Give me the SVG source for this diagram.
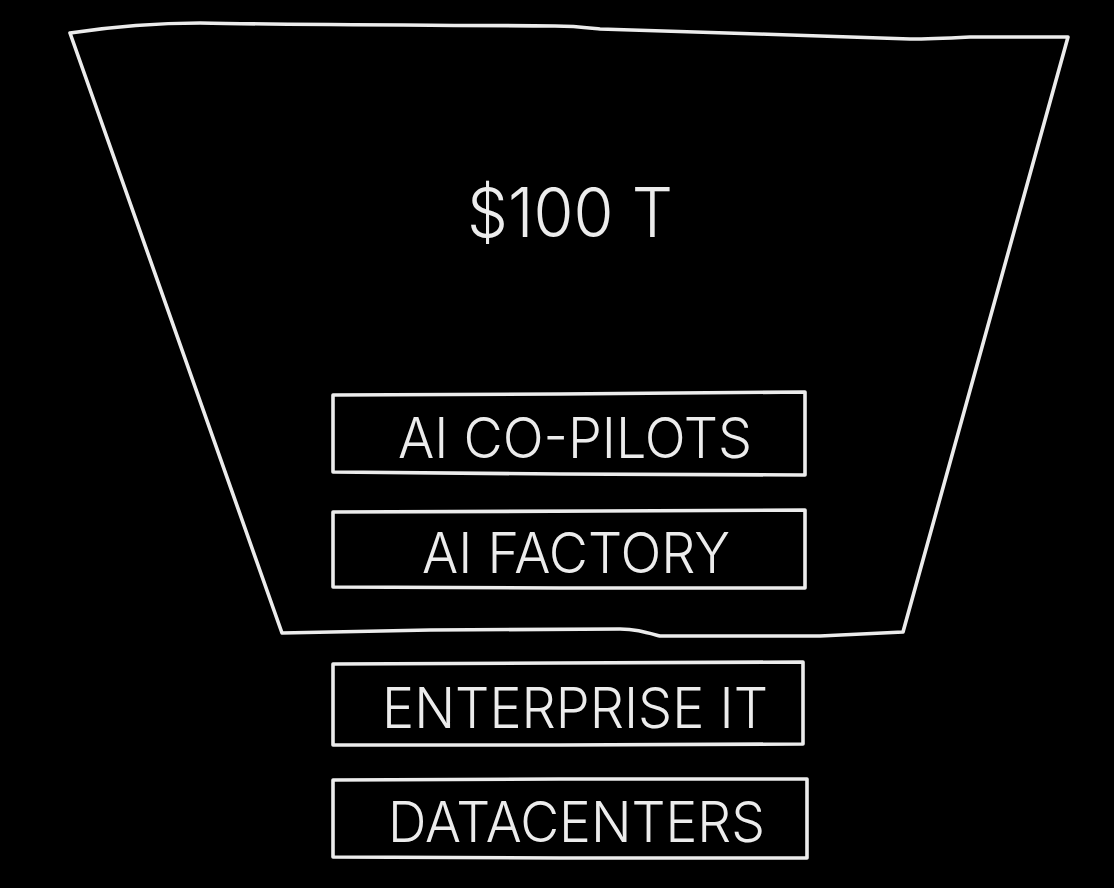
<svg xmlns="http://www.w3.org/2000/svg" width="1114" height="888" viewBox="0 0 1114 888">
<defs>
<filter id="chalk" x="-2%" y="-2%" width="104%" height="104%">
<feGaussianBlur stdDeviation="0.6"/>
</filter>
</defs>
<style>
.ln{fill:none;stroke:#ececec;stroke-width:3.6;stroke-linejoin:round;stroke-linecap:round;filter:url(#chalk)}
.tx{fill:#ececec;font-family:"Inter","Liberation Sans",sans-serif;font-weight:300;filter:url(#chalk)}
.lb{font-size:56px}
</style>
<rect width="1114" height="888" fill="#000"/>
<g id="funnel">
<path class="ln" d="M70,33 C110,27 160,23 200,23 C300,25 450,25 555,26 C575,26 590,28 600,29 C700,32 820,36 910,39 C930,39 950,38 970,37 L1068,37 L903,632 L820,636 L660,636 C645,632 635,629 620,629 L430,630 L282,633 Z"/>
<text class="tx" x="467" y="237" font-size="68" textLength="206" lengthAdjust="spacingAndGlyphs">$100 T</text>
</g>
<g id="copilots">
<path class="ln" d="M333,395 L560,394 L805,392 L805,475 L560,474 L333,472 Z"/>
<text class="tx lb" x="398" y="458" textLength="354" lengthAdjust="spacingAndGlyphs">AI CO-PILOTS</text>
</g>
<g id="factory">
<path class="ln" d="M333,512 L600,511 L805,510 L805,588 L560,588 L333,587 Z"/>
<text class="tx lb" x="422" y="573" textLength="308" lengthAdjust="spacingAndGlyphs">AI FACTORY</text>
</g>
<g id="enterprise">
<path class="ln" d="M333,664 L560,663 L803,662 L803,744 L560,745 L333,745 Z"/>
<text class="tx lb" x="382" y="728" textLength="386" lengthAdjust="spacingAndGlyphs">ENTERPRISE IT</text>
</g>
<g id="datacenters">
<path class="ln" d="M333,780 L560,779 L807,779 L807,858 L560,858 L333,857 Z"/>
<text class="tx lb" x="388" y="842" textLength="377" lengthAdjust="spacingAndGlyphs">DATACENTERS</text>
</g>
<g id="connectors"/>
</svg>
